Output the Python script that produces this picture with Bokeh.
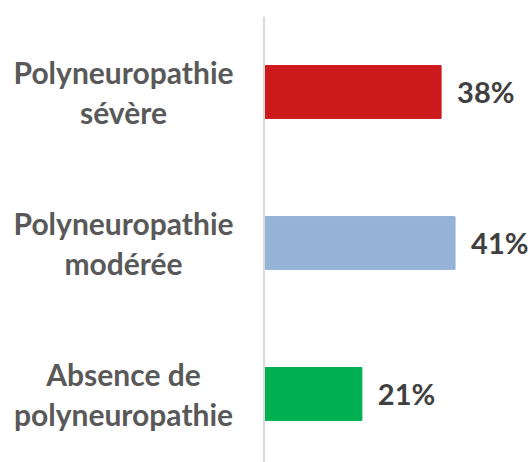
from bokeh.plotting import figure
from bokeh.models import Range1d, Span, ColumnDataSource
from bokeh.core.properties import value
from bokeh.embed import file_html
from bokeh.resources import INLINE

categories = ["Polyneuropathie\nsévère", "Polyneuropathie\nmodérée", "Absence de\npolyneuropathie"]
values = [38, 41, 21]
value_labels = ["38%", "41%", "21%"]
colors = ["#CC191B", "#95B3D7", "#00B050"]
positions = [2, 1, 0]

src = ColumnDataSource(dict(
    y=positions, v=values, lab=value_labels, cat=categories, color=colors,
    catx=[-30.15] * 3,
))

p = figure(width=528, height=462, output_backend="svg", toolbar_location=None,
           x_range=Range1d(-56.55, 56.76), y_range=Range1d(-0.454, 2.5),
           min_border_left=0, min_border_right=0, min_border_top=16, min_border_bottom=0)
p.axis.visible = False
p.grid.visible = False
p.outline_line_color = None

p.add_layout(Span(location=0, dimension="height", line_color="#D9D9D9", line_width=2))

p.hbar(y="y", left=0, right="v", height=0.35, color="color", source=src)

p.text(x="v", y="y", text="lab", source=src, x_offset=16,
       text_font=value("Lato"), text_font_style="bold", text_font_size="29px",
       text_color="#404040", text_align="left", text_baseline="middle")

p.text(x="catx", y="y", text="cat", source=src,
       text_font=value("Lato"), text_font_style="bold", text_font_size="30px",
       text_color="#595959", text_align="center", text_baseline="middle",
       text_line_height=1.1)

open("out.html", "w").write(file_html(p, INLINE))
